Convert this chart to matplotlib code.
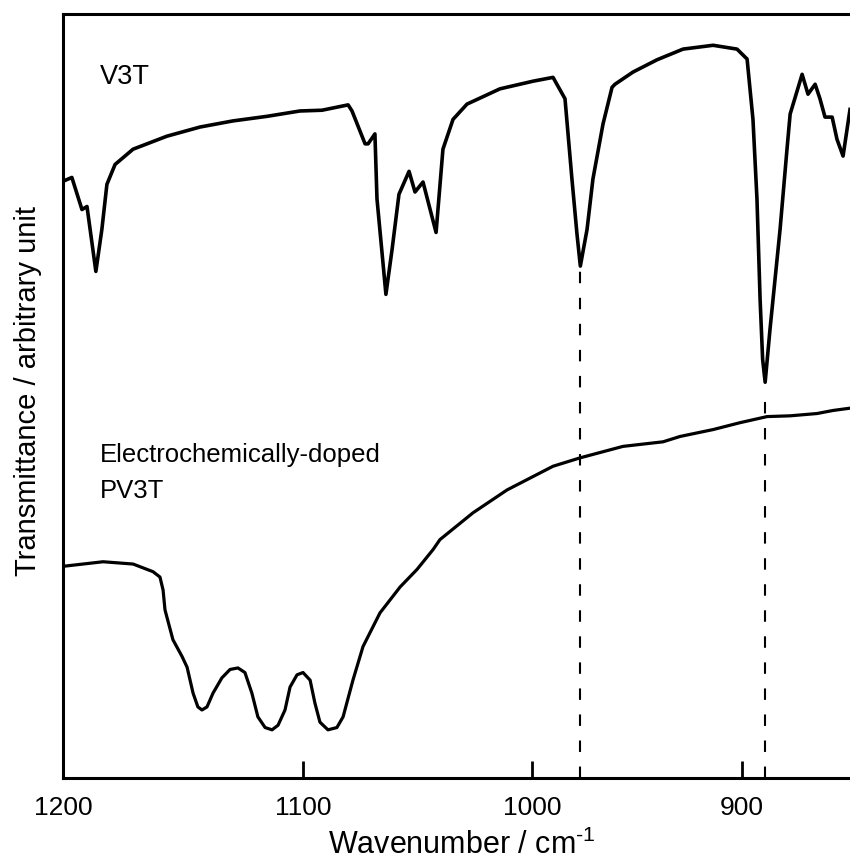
import numpy as np
from matplotlib import pyplot as plt

plt.rcParams['font.family'] = ['Liberation Sans', 'DejaVu Sans']
plt.rcParams['mathtext.fontset'] = 'custom'
plt.rcParams['mathtext.rm'] = 'Liberation Sans'

# V3T spectrum (wavenumber, transmittance in arbitrary units)
v3t_wn = [1200, 1196.3, 1192.1, 1190.0, 1186.3, 1183.8, 1181.7, 1178.3, 1170.8, 1156.7,
          1142.9, 1129.2, 1115.0, 1101.3, 1091.7, 1080.3, 1078.6, 1072.9, 1071.6, 1068.6,
          1067.7, 1063.8, 1061.1, 1058.1, 1053.7, 1051.1, 1047.6, 1041.9, 1038.9, 1034.5,
          1028.4, 1014.0, 999.5, 990.0, 984.3, 981.0, 978.6, 977.0, 973.8, 971.0,
          966.2, 961.9, 960.5, 951.9, 940.5, 928.1, 913.8, 902.4, 897.6, 894.8,
          892.9, 891.4, 890.2, 889.0, 886.7, 881.9, 878.6, 877.1, 871.4, 868.6,
          865.2, 862.9, 860.5, 857.1, 854.8, 851.9, 848.6]
v3t_t = [78.1, 78.6, 74.4, 74.8, 66.3, 71.8, 77.7, 80.3, 82.3, 84.0,
         85.2, 86.0, 86.6, 87.3, 87.4, 88.1, 87.3, 83.0, 83.0, 84.3,
         75.8, 63.3, 69.2, 76.4, 79.4, 76.7, 78.0, 71.4, 82.3, 86.2,
         88.2, 90.2, 91.2, 91.7, 88.9, 78.4, 71.2, 67.0, 71.8, 78.4,
         85.6, 90.4, 90.8, 92.4, 94.0, 95.4, 95.9, 95.4, 94.1, 86.2,
         75.8, 62.6, 54.8, 51.8, 58.7, 71.8, 82.3, 86.9, 92.1, 89.5,
         90.8, 88.9, 86.5, 86.5, 83.6, 81.4, 87.5]

# electrochemically-doped PV3T spectrum
pv3t_wn = [1200, 1183.3, 1170.8, 1162.5, 1159.6, 1158.3, 1157.5, 1154.2, 1150.4, 1148.3,
           1145.8, 1143.8, 1142.1, 1140.0, 1137.5, 1133.8, 1130.4, 1127.1, 1124.2, 1121.3,
           1118.8, 1115.8, 1112.9, 1110.4, 1107.5, 1105.4, 1102.5, 1100.0, 1096.9, 1094.8,
           1092.6, 1089.1, 1085.2, 1082.5, 1078.2, 1073.8, 1066.4, 1057.6, 1050.2, 1043.2,
           1040.2, 1025.8, 1010.9, 990.0, 977.1, 956.7, 937.6, 929.5, 913.8, 901.0,
           888.1, 877.1, 864.3, 856.7, 848.6]
pv3t_t = [27.7, 28.3, 28.0, 27.0, 26.3, 24.6, 22.0, 18.1, 15.9, 14.5,
          11.1, 9.3, 8.9, 9.3, 11.1, 13.1, 14.2, 14.4, 13.8, 11.1,
          8.0, 6.6, 6.3, 6.9, 8.9, 11.9, 13.5, 13.8, 12.8, 9.8,
          7.3, 6.3, 6.6, 8.0, 12.8, 17.2, 21.6, 25.0, 27.3, 29.9,
          31.2, 34.7, 37.7, 40.8, 41.9, 43.4, 44.0, 44.7, 45.6, 46.5,
          47.3, 47.4, 47.7, 48.1, 48.4]

# dashed guide lines at the V3T bands
mark_wn = [977, 889]
mark_top = [66.5, 50.0]

ticks = [1200, 1100, 1000, 900]

# the printed wavenumber axis is not evenly spaced
scale_wn = np.array([800, 900, 1000, 1100, 1200])
scale_pos = np.array([-889, -679, -469, -240, 0])

def forward(x):
    return np.interp(np.asarray(x, float), scale_wn, scale_pos)

def inverse(p):
    return np.interp(np.asarray(p, float), scale_pos, scale_wn)

fig = plt.figure(figsize=(8.5, 8.67), dpi=100)
ax = fig.add_axes([0.0741, 0.1027, 0.9259, 0.8812])
ax.set_xscale('function', functions=(forward, inverse))

ax.plot(v3t_wn, v3t_t, color='black', lw=2.6, solid_joinstyle='round')
ax.plot(pv3t_wn, pv3t_t, color='black', lw=2.3, solid_joinstyle='round')
for w, top in zip(mark_wn, mark_top):
    ax.plot([w, w], [0, top], color='black', lw=1.5, dashes=(5.5, 7))

ax.set_xlim(1200, 848.6)
ax.set_ylim(0, 100)
ax.set_xticks(ticks)
ax.set_xticklabels([str(t) for t in ticks])
ax.set_yticks([])
ax.tick_params(axis='x', direction='in', length=12, width=2, labelsize=19, pad=13)

for s in ['left', 'bottom', 'top']:
    ax.spines[s].set_linewidth(2.2)
ax.spines['right'].set_visible(False)

ax.text(1184.6, 90.8, 'V3T', fontsize=19.5, va='baseline', ha='left')
ax.text(1184.6, 41.3, 'Electrochemically-doped', fontsize=18.5, va='baseline', ha='left')
ax.text(1184.6, 36.7, 'PV3T', fontsize=18.5, va='baseline', ha='left')

ax.set_xlabel('Wavenumber / cm$^{\\text{-1}}$', fontsize=22)
ax.xaxis.set_label_coords(0.507, -0.068)
ax.set_ylabel('Transmittance / arbitrary unit', fontsize=21)
ax.yaxis.set_label_coords(-0.027, 0.506)

fig.savefig('out.png', dpi=100)
